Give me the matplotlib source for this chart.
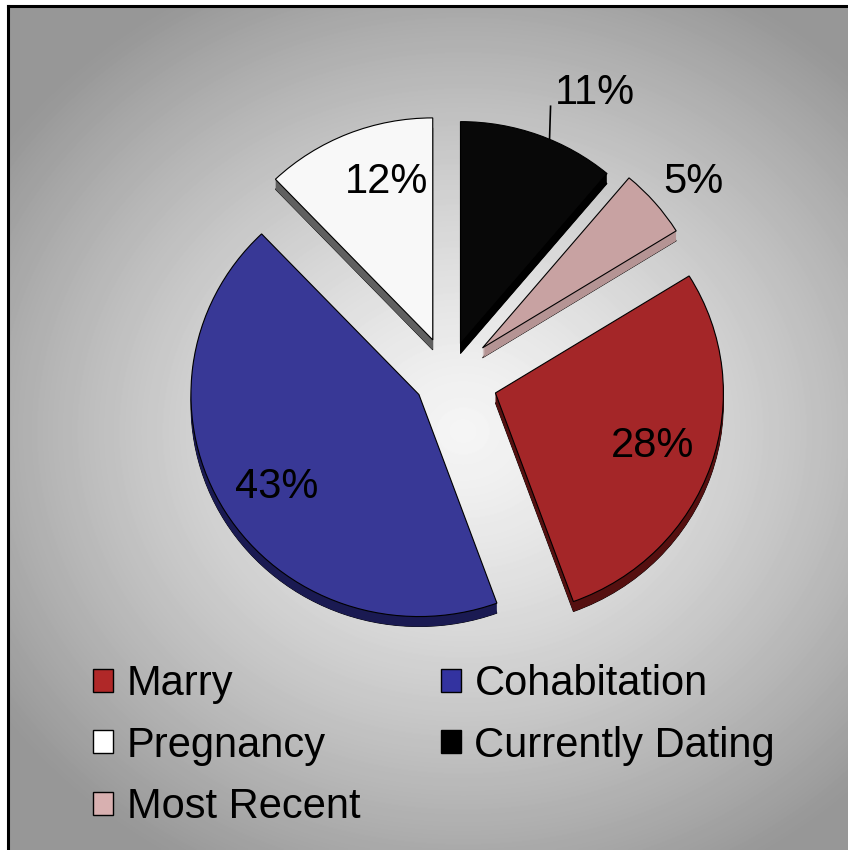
"""
Exploded pie with a fake 3D edge, gray gradient background
"""
import numpy as np
import matplotlib.pyplot as plt
from matplotlib.patches import Wedge, Patch

plt.rcParams['font.family'] = ['Liberation Sans', 'DejaVu Sans']

# data
labels = ['Marry', 'Cohabitation', 'Pregnancy', 'Currently Dating', 'Most Recent']
values = [28, 43, 12, 11, 5]

# styles
colors = ['#A42628', '#383896', '#F8F8F8', '#080808', '#C8A2A2']
side_colors = ['#551010', '#1A1A52', '#606060', '#000000', '#B59494']
legend_colors = ['#B02828', '#3333A0', '#FFFFFF', '#000000', '#D8B0B0']
explode = [0.22, 0.15, 0.18, 0.16, 0.20]
# (distance, angle nudge) for each percent label
label_place = [(0.73, 0), (0.75, 2), (0.74, -6), None, (1.19, -2)]

W, H = 848, 850
RX, RY = 228, 222   # pie radius, px (slightly squashed, 3D look)
CX, CY = 448, 377   # pie centre, px
DEPTH = 10 / RY

fig = plt.figure(figsize=(W / 100, H / 100), dpi=100)
fig.patch.set_facecolor('white')

# фон: градиент от центра
bg_ax = fig.add_axes([8 / W, 0, (W - 8) / W, (H - 6) / H], zorder=0)
hh, ww = H - 6, W - 8
yy, xx = np.mgrid[0:hh, 0:ww]
rr = np.sqrt(((xx - 455) / 540.0) ** 2 + ((yy - 425) / 480.0) ** 2)
bg = np.clip(0.96 - 0.35 * rr ** 1.3, 0.59, 1.0)
bg_ax.imshow(bg, cmap='gray', vmin=0, vmax=1, aspect='auto',
             interpolation='bilinear')
bg_ax.set_xticks([])
bg_ax.set_yticks([])
for side in ('right', 'bottom'):
    bg_ax.spines[side].set_visible(False)
for side in ('left', 'top'):
    bg_ax.spines[side].set_linewidth(2.2)
    bg_ax.spines[side].set_color('black')

ax = fig.add_axes([0, 0, 1, 1], zorder=1)
ax.patch.set_alpha(0)

start = 90 - (values[3] + values[4]) / sum(values) * 360
wedges, _ = ax.pie(values, colors=colors, explode=explode, startangle=start,
                   counterclock=False, radius=1,
                   wedgeprops=dict(edgecolor='black', linewidth=0.8))
for w in wedges:
    w.set_zorder(4)

# боковая грань
for w, sc in zip(wedges, side_colors):
    cx, cy = w.center
    for k in np.linspace(DEPTH, 0, 10, endpoint=False):
        ax.add_patch(Wedge((cx, cy - k), w.r, w.theta1, w.theta2,
                           facecolor=sc, edgecolor='none', zorder=3))
    ax.add_patch(Wedge((cx, cy - DEPTH), w.r, w.theta1, w.theta2,
                       facecolor=sc, edgecolor='black', linewidth=0.6,
                       zorder=2))

# подписи процентов
total = sum(values)
for w, v, place in zip(wedges, values, label_place):
    cx, cy = w.center
    mid = np.deg2rad((w.theta1 + w.theta2) / 2)
    txt = '%.0f%%' % (v / total * 100)
    if place is None:
        a = np.deg2rad(67)
        x0 = cx + np.cos(a)
        y0 = cy + np.sin(a) + 1 / RY
        y1 = y0 + 32 / RY
        ax.plot([x0, x0 + 1 / RX], [y0, y1], color='black', lw=1.2, zorder=5)
        ax.text(x0 + 5 / RX, y1 + 13 / RY, txt, ha='left', va='center',
                fontsize=30, zorder=6)
        continue
    dist, nudge = place
    a = mid + np.deg2rad(nudge)
    ax.text(cx + dist * np.cos(a), cy + dist * np.sin(a), txt,
            ha='center', va='center', fontsize=30, zorder=6)

ax.set_xlim(-CX / RX, (W - CX) / RX)
ax.set_ylim(-(H - CY) / RY, CY / RY)
ax.set_aspect('auto')
ax.axis('off')

# легенда: по строкам, поэтому переставляем порядок
order = [0, 2, 4, 1, 3]
handles = [Patch(facecolor=legend_colors[i], edgecolor='black', linewidth=1)
           for i in order]
fig.legend(handles, [labels[i] for i in order], ncol=2, loc='upper left',
           bbox_to_anchor=(93 / W, 1 - 664 / H), frameon=False,
           fontsize=30, borderpad=0, borderaxespad=0,
           handlelength=0.48, handleheight=0.48, handletextpad=0.33,
           columnspacing=1.93, labelspacing=0.52)

fig.savefig('out.png', dpi=100)
